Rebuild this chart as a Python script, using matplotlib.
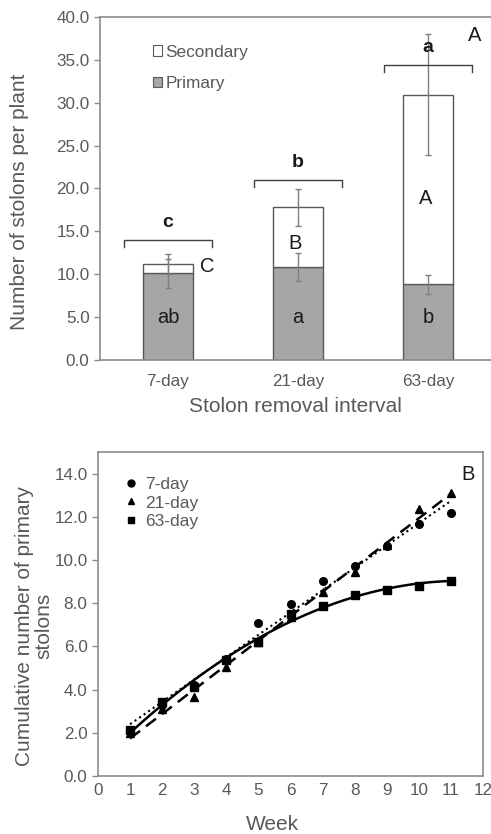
import numpy as np
import matplotlib
matplotlib.use("Agg")
import matplotlib.pyplot as plt
from matplotlib.patches import Patch
from matplotlib.lines import Line2D

plt.rcParams['font.family'] = ['Liberation Sans', 'DejaVu Sans']

# ---------------- Panel A data ----------------
intervals = ["7-day", "21-day", "63-day"]
primary = [10.1, 10.87, 8.85]
secondary = [1.08, 6.93, 22.1]
primary_err = [1.7, 1.6, 1.1]
total_err = [1.2, 2.2, 7.1]
primary_letters = ["ab", "a", "b"]
secondary_letters = ["C", "B", "A"]
secondary_letter_y = [10.9, 13.6, 18.8]
total_letters = ["c", "b", "a"]
bracket_y = [14.0, 21.0, 34.4]

# ---------------- Panel B data ----------------
weeks = [1, 2, 3, 4, 5, 6, 7, 8, 9, 10, 11]
day7 = [2.1, 3.3, 4.2, 5.4, 7.08, 7.94, 9.05, 9.7, 10.66, 11.66, 12.17]
day21 = [2.0, 3.1, 3.66, 5.05, 6.2, 7.35, 8.5, 9.43, 10.7, 12.35, 13.08]
day63 = [2.12, 3.43, 4.12, 5.35, 6.2, 7.48, 7.89, 8.4, 8.62, 8.78, 9.05]

TXT = "#595959"
SPINE = "#8c8c8c"
TICKFS = 12.3
LABFS = 15

fig = plt.figure(figsize=(4.91, 8.34), dpi=100)

# ================= Panel A =================
axA = fig.add_axes([100/491, 1-360/834, 391/491, 343/834])
x = np.arange(len(intervals))
w = 0.385
axA.bar(x, primary, w, color="#a6a6a6", edgecolor="#595959", linewidth=1.0, zorder=2)
totals = [p + s for p, s in zip(primary, secondary)]
axA.bar(x, secondary, w, bottom=primary, color="white", edgecolor="#595959", linewidth=1.0, zorder=2)
axA.errorbar(x, primary, yerr=primary_err, fmt="none", ecolor="#7f7f7f", elinewidth=1.0,
             capsize=2.5, capthick=1.0, zorder=3)
axA.errorbar(x, totals, yerr=total_err, fmt="none", ecolor="#7f7f7f", elinewidth=1.0,
             capsize=2.5, capthick=1.0, zorder=3)

for i in range(len(intervals)):
    axA.text(x[i], 5.0, primary_letters[i], ha="center", va="center", fontsize=14.5, color="#1a1a1a", zorder=4)
    hw = 0.34
    by = bracket_y[i]
    axA.plot([x[i]-hw, x[i]-hw, x[i]+hw, x[i]+hw], [by-0.85, by, by, by-0.85],
             color="#404040", lw=1.0, zorder=4)
    axA.text(x[i], by + 2.0, total_letters[i], ha="center", va="center", fontsize=14,
             fontweight="bold", color="#1a1a1a", zorder=4)
axA.text(x[0] + 0.25, secondary_letter_y[0], secondary_letters[0], ha="left", va="center", fontsize=14.5, color="#1a1a1a")
axA.text(x[1] - 0.02, secondary_letter_y[1], secondary_letters[1], ha="center", va="center", fontsize=14.5, color="#1a1a1a")
axA.text(x[2] - 0.02, secondary_letter_y[2], secondary_letters[2], ha="center", va="center", fontsize=14.5, color="#1a1a1a")
axA.text(0.957, 0.945, "A", transform=axA.transAxes, ha="center", va="center", fontsize=14.5, color="#1a1a1a")

axA.set_xlim(-0.523, 2.485)
axA.set_ylim(0, 40)
axA.set_yticks(np.arange(0, 40.1, 5))
axA.set_yticklabels([f"{v:.1f}" for v in np.arange(0, 40.1, 5)])
axA.set_xticks(x)
axA.set_xticklabels(intervals)
axA.tick_params(axis="y", colors=SPINE, labelcolor=TXT, labelsize=TICKFS, length=4, width=1)
axA.tick_params(axis="x", length=0, labelcolor=TXT, labelsize=TICKFS, pad=10)
for s in ["left", "bottom", "top"]:
    axA.spines[s].set_color(SPINE)
    axA.spines[s].set_linewidth(1.2)
axA.spines["right"].set_visible(False)
axA.set_ylabel("Number of stolons per plant", fontsize=LABFS, color=TXT)
axA.yaxis.set_label_coords(-0.182, 0.46)
axA.set_xlabel("Stolon removal interval", fontsize=LABFS, color=TXT, labelpad=6)

handles = [Patch(facecolor="white", edgecolor="#595959", linewidth=0.8),
           Patch(facecolor="#a6a6a6", edgecolor="#595959", linewidth=0.8)]
axA.legend(handles, ["Secondary", "Primary"], loc="upper left", bbox_to_anchor=(0.095, 0.965),
           frameon=False, fontsize=12.4, handlelength=0.55, handleheight=0.55, handletextpad=0.2,
           labelspacing=0.95, labelcolor=TXT)

# ================= Panel B =================
axB = fig.add_axes([98/491, 1-776/834, 385/491, 324/834])
wk = np.array(weeks, dtype=float)
series = [(day7, "o", ":", 1, "7-day"), (day21, "^", "--", 1, "21-day"), (day63, "s", "-", 2, "63-day")]
xx = np.linspace(min(weeks), max(weeks), 200)
for ys, mk, ls, deg, lab in series:
    coef = np.polyfit(wk, ys, deg)
    if ls == "--":
        axB.plot(xx, np.polyval(coef, xx), color="black", lw=1.8, dashes=(5, 3), zorder=2)
    else:
        axB.plot(xx, np.polyval(coef, xx), color="black", lw=1.8 if ls == "-" else 1.5, ls=ls, zorder=2)
    axB.plot(wk, ys, ls="none", marker=mk, color="black", markersize=5.5, zorder=3)

axB.set_xlim(0, 12)
axB.set_ylim(0, 15)
axB.set_xticks(np.arange(0, 13, 1))
axB.set_yticks(np.arange(0, 14.1, 2))
axB.set_yticklabels([f"{v:.1f}" for v in np.arange(0, 14.1, 2)])
axB.tick_params(axis="both", colors=SPINE, labelcolor=TXT, labelsize=TICKFS, length=4, width=1)
axB.tick_params(axis="x", length=0, pad=5)
for s in axB.spines.values():
    s.set_color(SPINE)
    s.set_linewidth(1.2)
axB.set_ylabel("Cumulative number of primary\nstolons", fontsize=LABFS, color=TXT, linespacing=1.0)
axB.yaxis.set_label_coords(-0.117, 0.463)
axB.set_xlabel("Week", fontsize=LABFS, color=TXT)
axB.xaxis.set_label_coords(0.453, -0.12)
axB.text(0.96, 0.93, "B", transform=axB.transAxes, ha="center", va="center", fontsize=14.5, color="#1a1a1a")

lh = [Line2D([], [], ls="none", marker=m, color="black", markersize=5) for m in ["o", "^", "s"]]
axB.legend(lh, ["7-day", "21-day", "63-day"], loc="upper left", bbox_to_anchor=(0.05, 0.945),
           frameon=False, fontsize=12.5, handlelength=0.8, handletextpad=0.4, labelspacing=0.2,
           labelcolor=TXT, borderaxespad=0)

fig.savefig("out.png", dpi=100)
